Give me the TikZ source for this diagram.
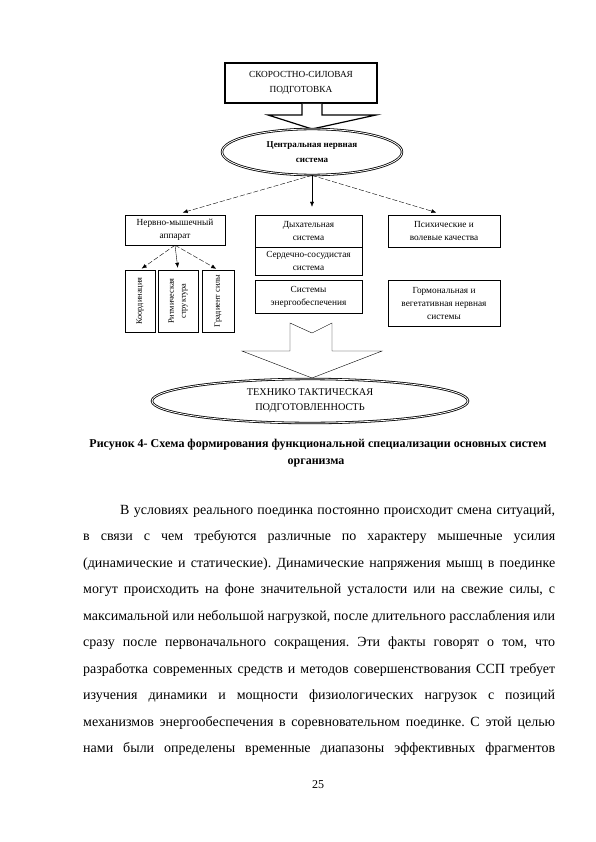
\documentclass[tikz,border=0pt]{standalone}
\usepackage{fontspec}
\setmainfont{Liberation Serif}
\usetikzlibrary{arrows.meta, positioning, shapes.geometric}
\frenchspacing

\tikzset{
  diag/.style={font=\fontsize{9.3}{13}\selectfont, align=center},
  sqbox/.style={diag, draw, thin, inner sep=1pt},
  vbox/.style={sqbox, rotate=90, font=\fontsize{8.3}{12}\selectfont},
  oval/.style={ellipse, draw, fill=white, line width=0.8pt, double, double distance=0.8pt, inner sep=0pt, diag},
  dasharrow/.style={dash pattern=on 5pt off 2pt, -{Latex[length=5pt,width=4pt]}},
  solidarrow/.style={-{Latex[length=5pt,width=4pt]}},
  bodytext/.style={font=\fontsize{14}{16}\selectfont, anchor=base west, inner sep=0pt},
}

\begin{document}
\begin{tikzpicture}[x=1pt, y=-1pt]
\useasboundingbox (0,0) rectangle (595,842);

% --- top callout ---
\node[diag, draw, line width=1.8pt, minimum width=152pt, minimum height=40pt,
      font=\fontsize{9.3}{15}\selectfont] (ssp) at (301,83) {СКОРОСТНО-СИЛОВАЯ\\ПОДГОТОВКА};
\draw[line width=1.2pt, fill=white] (302,104) -- (302,115) -- (268,115) -- (312,129)
      -- (376,115) -- (322,115) -- (322,104);

% --- central nervous system ---
\node[oval, minimum width=180pt, minimum height=46pt, font=\fontsize{9}{15}\bfseries]
      (cns) at (312,152) {Центральная нервная\\система};

% --- second row ---
\node[sqbox, minimum width=100pt, minimum height=30pt] (nma) at (175,230) {Нервно-мышечный\\аппарат};
\node[sqbox, minimum width=107pt, minimum height=32pt] (dyh) at (308.5,231) {Дыхательная\\система};
\node[sqbox, minimum width=107pt, minimum height=28pt, below=0pt of dyh] (ss) {Сердечно-сосудистая\\система};
\node[sqbox, minimum width=107pt, minimum height=33pt] (energy) at (308.5,296.5) {Системы\\энергообеспечения};
\node[sqbox, minimum width=112pt, minimum height=32pt] (psy) at (444,231) {Психические и\\волевые качества};
\node[sqbox, minimum width=112pt, minimum height=46pt] (horm) at (444,303) {Гормональная и\\вегетативная нервная\\системы};

% vertical boxes under the neuromuscular box
\node[vbox, minimum width=62pt, minimum height=30pt] (coord) at (140,301) {Координация};
\node[vbox, minimum width=62pt, minimum height=40pt] (rhythm) at (178,301) {Ритмическая\\структура};
\node[vbox, minimum width=62pt, minimum height=32pt] (grad) at (218,301) {Градиент силы};

% arrows
\draw[dasharrow, shorten >=8pt] (cns.south) -- (nma.north);
\draw[solidarrow, shorten >=8pt] (cns.south) -- (cns.south |- dyh.north);
\draw[dasharrow, shorten >=8pt] (cns.south) -- (psy.north);
\draw[dasharrow, shorten >=2pt] (nma.south) -- (coord.east);
\draw[solidarrow, shorten >=2pt] (nma.south) -- (rhythm.east);
\draw[dasharrow, shorten >=2pt] (nma.south) -- (grad.east);

% notched block arrow
\draw[thin, fill=white] (290,323) -- (312,333) -- (332,323) -- (332,351) -- (382,351)
      -- (312,378) -- (242,351) -- (290,351) -- cycle;

% --- result ---
\node[oval, minimum width=316pt, minimum height=44pt, font=\fontsize{10.3}{15}\selectfont]
      (ttp) at (310,401) {ТЕХНИКО ТАКТИЧЕСКАЯ\\ПОДГОТОВЛЕННОСТЬ};

% caption
\node[font=\fontsize{12}{14}\bfseries] (cap1) at (318,445) {Рисунок 4- Схема формирования функциональной специализации основных систем};
\node[font=\fontsize{12}{14}\bfseries] (cap2) at (316,463) {организма};

% body text
\node[bodytext] (ln1) at (120,514) {\makebox[435pt][s]{В условиях реального поединка постоянно происходит смена ситуаций,}};
\foreach \n/\t in {
  2/{в связи с чем требуются различные по характеру мышечные усилия},
  3/{(динамические и статические). Динамические напряжения мышц в поединке},
  4/{могут происходить на фоне значительной усталости или на свежие силы, с},
  5/{максимальной или небольшой нагрузкой, после длительного расслабления или},
  6/{сразу после первоначального сокращения. Эти факты говорят о том, что},
  7/{разработка современных средств и методов совершенствования ССП требует},
  8/{изучения динамики и мощности физиологических нагрузок с позиций},
  9/{механизмов энергообеспечения в соревновательном поединке. С этой целью},
  10/{нами были определены временные диапазоны эффективных фрагментов}} {
  \node[bodytext] (ln\n) at (83,{514+(\n-1)*26.5}) {\makebox[472pt][s]{\t}};
}

\node[font=\fontsize{12}{14}\selectfont] (pagenum) at (318,785) {25};

\end{tikzpicture}
\end{document}
